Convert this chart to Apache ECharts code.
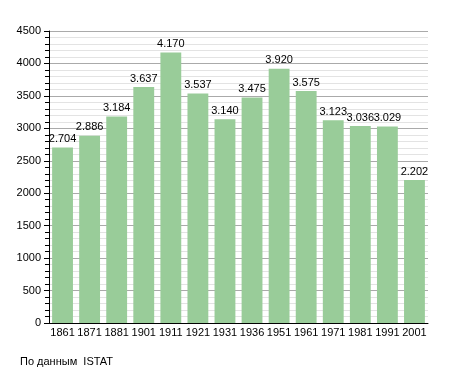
<!DOCTYPE html>
<html><head><meta charset="utf-8">
<script src="https://cdn.jsdelivr.net/npm/echarts@6/dist/echarts.min.js"></script>
<style>html,body{margin:0;padding:0;background:#fff}#c{width:455px;height:373px}</style>
</head><body><div id="c"></div>
<script>
const years = ['1861','1871','1881','1901','1911','1921','1931','1936','1951','1961','1971','1981','1991','2001'];
const population = [2704,2886,3184,3637,4170,3537,3140,3475,3920,3575,3123,3036,3029,2202];
const yTicks = [0,500,1000,1500,2000,2500,3000,3500,4000,4500];
const sourceNote = 'По данным  ISTAT';

const font = 'Liberation Sans, Arial, sans-serif';
const chart = echarts.init(document.getElementById('c'), null, {renderer:'canvas'});
chart.setOption({
  animation:false,
  textStyle:{fontFamily:font},
  grid:{left:49,right:27,top:31,bottom:50,containLabel:false},
  graphic:[{type:'text',left:20,top:356,style:{text:sourceNote,font:'11px '+font,fill:'#000'}}],
  xAxis:{type:'category',data:years,
    axisLine:{lineStyle:{color:'#000',width:1}},
    axisTick:{show:false},
    axisLabel:{color:'#000',fontSize:11,margin:4,interval:0,fontFamily:font}},
  yAxis:{type:'value',min:yTicks[0],max:yTicks[yTicks.length-1],interval:500,
    axisLine:{show:true,lineStyle:{color:'#000'}},
    axisTick:{show:true,inside:false,length:5,lineStyle:{color:'#000'}},
    minorTick:{show:true,splitNumber:5,length:4,lineStyle:{color:'#000'}},
    splitLine:{show:true,lineStyle:{color:'#aaaaaa',width:1}},
    minorSplitLine:{show:true,lineStyle:{color:'#e3e3e3',width:1}},
    axisLabel:{color:'#000',fontSize:11,margin:8,fontFamily:font,formatter:v=>String(v)}},
  series:[{type:'bar',data:population,barWidth:'77%',
    itemStyle:{color:'#99cc99'},
    label:{show:true,position:'top',distance:3,color:'#000',fontSize:11,fontFamily:font,
      formatter:p=>{const v=String(p.value);return v.length>3?v.slice(0,v.length-3)+'.'+v.slice(-3):v;}}}]
});
</script></body></html>
